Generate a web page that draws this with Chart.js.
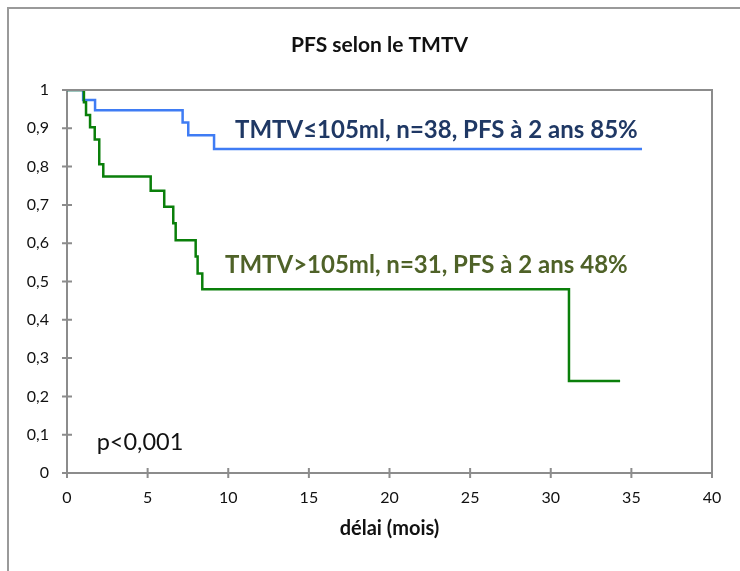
<!DOCTYPE html>
<html>
<head>
<meta charset="utf-8">
<script src="https://cdn.jsdelivr.net/npm/chart.js@4/dist/chart.umd.min.js"></script>
<style>
  html, body { margin: 0; padding: 0; background: #ffffff; }
  canvas { display: block; }
</style>
</head>
<body>
<canvas id="c" width="740" height="571"></canvas>
<script>
// ---- data ----
const chartTitle = 'PFS selon le TMTV';
const xAxisTitle = 'délai (mois)';
const xTickLabels = ['0', '5', '10', '15', '20', '25', '30', '35', '40'];
const yTickLabels = ['0', '0,1', '0,2', '0,3', '0,4', '0,5', '0,6', '0,7', '0,8', '0,9', '1'];

// Kaplan-Meier steps: time (months) and survival after each event
const lowTime = [0, 1.0, 1.74, 7.17, 7.52, 9.12, 35.66];
const lowSurv = [1, 0.974, 0.947, 0.915, 0.882, 0.846, 0.846];
const highTime = [0, 1.05, 1.18, 1.43, 1.72, 2.0, 2.25, 5.19, 6.03, 6.59, 6.74, 7.98, 8.1, 8.39, 31.13, 34.3];
const highSurv = [1, 0.968, 0.935, 0.903, 0.871, 0.806, 0.774, 0.737, 0.695, 0.652, 0.608, 0.565, 0.521, 0.480, 0.240, 0.240];

const lowLabel = 'TMTV≤105ml, n=38, PFS à 2 ans 85%';
const highLabel = 'TMTV>105ml, n=31, PFS à 2 ans 48%';
const pValueLabel = 'p<0,001';

// ---- build ----
const toPoints = (xs, ys) => xs.map((x, i) => ({ x: x, y: ys[i] }));
const AXIS_GREY = '#8c8c8c';
const FONT = 'Lato, "Open Sans", sans-serif';

Chart.defaults.font.family = FONT;
Chart.defaults.color = '#111111';

const decorations = {
  id: 'decorations',
  afterDraw(chart) {
    const ctx = chart.ctx;
    const a = chart.chartArea;
    const xs = chart.scales.x, ys = chart.scales.y;
    ctx.save();
    // outer chart frame (left and top edges visible)
    ctx.strokeStyle = '#9a9a9a';
    ctx.lineWidth = 2;
    ctx.beginPath();
    ctx.moveTo(8, chart.height);
    ctx.lineTo(8, 8);
    ctx.lineTo(chart.width, 8);
    ctx.stroke();
    // plot frame top and right
    ctx.strokeStyle = AXIS_GREY;
    ctx.beginPath();
    ctx.moveTo(a.left, a.top);
    ctx.lineTo(a.right, a.top);
    ctx.lineTo(a.right, a.bottom);
    ctx.stroke();
    // crossing tick marks
    ctx.beginPath();
    xs.ticks.forEach(t => {
      const px = xs.getPixelForValue(t.value);
      ctx.moveTo(px, a.bottom - 5);
      ctx.lineTo(px, a.bottom + 5);
    });
    ys.ticks.forEach(t => {
      const py = ys.getPixelForValue(t.value);
      ctx.moveTo(a.left - 5, py);
      ctx.lineTo(a.left + 5, py);
    });
    ctx.stroke();
    // chart title
    ctx.textAlign = 'center';
    ctx.textBaseline = 'alphabetic';
    ctx.fillStyle = '#111111';
    ctx.font = 'bold 21px ' + FONT;
    ctx.fillText(chartTitle, 379.5, 52);
    // annotations (anchored in data units)
    ctx.textAlign = 'left';
    ctx.font = 'bold 24px ' + FONT;
    ctx.fillStyle = '#1f3864';
    ctx.fillText(lowLabel, xs.getPixelForValue(10.42), ys.getPixelForValue(0.874));
    ctx.fillStyle = '#4f6228';
    ctx.fillText(highLabel, xs.getPixelForValue(9.8), ys.getPixelForValue(0.521));
    ctx.font = '23.5px ' + FONT;
    ctx.fillStyle = '#111111';
    ctx.fillText(pValueLabel, xs.getPixelForValue(1.84), ys.getPixelForValue(0.060));
    ctx.restore();
  }
};

new Chart(document.getElementById('c'), {
  type: 'scatter',
  data: {
    datasets: [
      {
        label: highLabel,
        data: toPoints(highTime, highSurv),
        showLine: true,
        stepped: 'before',
        borderColor: '#0a7f0a',
        backgroundColor: '#0a7f0a',
        borderWidth: 2.5,
        pointRadius: 0,
        fill: false
      },
      {
        label: lowLabel,
        data: toPoints(lowTime, lowSurv),
        showLine: true,
        stepped: 'before',
        borderColor: '#3f7cf4',
        backgroundColor: '#3f7cf4',
        borderWidth: 2.5,
        pointRadius: 0,
        fill: false
      }
    ]
  },
  options: {
    responsive: false,
    animation: false,
    devicePixelRatio: 1,
    layout: { padding: { left: 0, right: 28, top: 90, bottom: 0 } },
    plugins: {
      legend: { display: false },
      tooltip: { enabled: false },
      title: { display: false }
    },
    scales: {
      x: {
        type: 'linear',
        min: 0,
        max: 40,
        afterFit: s => { s.height = 98; },
        grid: { display: false, drawTicks: false },
        border: { display: true, color: AXIS_GREY, width: 2 },
        ticks: {
          stepSize: 5,
          padding: 15,
          font: { size: 16 },
          color: '#111111',
          maxRotation: 0,
          callback: (v, i) => xTickLabels[i]
        },
        title: {
          display: true,
          text: xAxisTitle,
          color: '#111111',
          font: { size: 20, weight: 'bold' },
          padding: { top: 0, bottom: 30 }
        }
      },
      y: {
        type: 'linear',
        min: 0,
        max: 1,
        afterFit: s => { s.width = 67; },
        grid: { display: false, drawTicks: false },
        border: { display: true, color: AXIS_GREY, width: 2 },
        ticks: {
          stepSize: 0.1,
          padding: 18,
          font: { size: 16 },
          color: '#111111',
          callback: (v, i) => yTickLabels[i]
        }
      }
    }
  },
  plugins: [decorations]
});
</script>
</body>
</html>
